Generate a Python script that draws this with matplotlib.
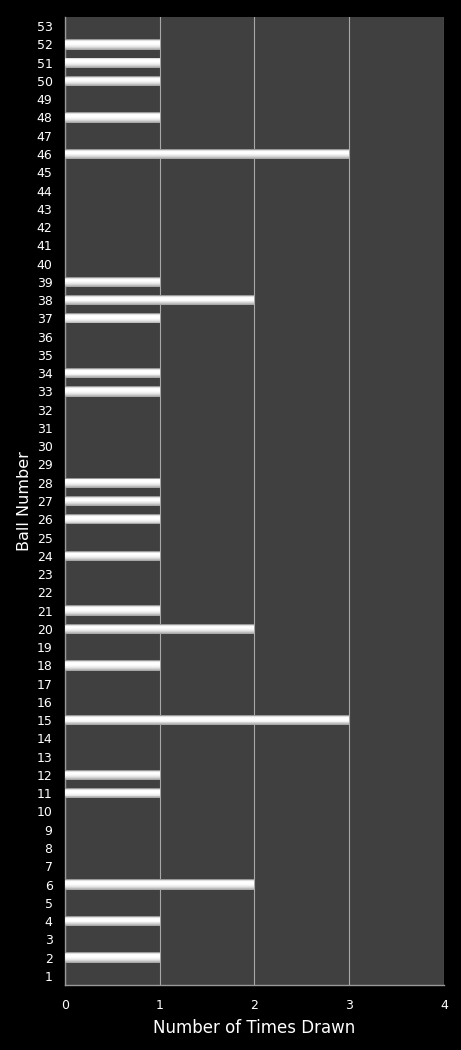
import numpy as np
import matplotlib.pyplot as plt

ball_numbers = list(range(1, 54))
drawn_balls = [2, 4, 6, 11, 12, 15, 18, 20, 21, 24, 26, 27, 28, 33, 34, 37, 38, 39, 46, 48, 50, 51, 52]
drawn_counts = [1, 1, 2, 1, 1, 3, 1, 2, 1, 1, 1, 1, 1, 1, 1, 1, 2, 1, 3, 1, 1, 1, 1]
x_ticks = [0, 1, 2, 3, 4]

counts = dict(zip(drawn_balls, drawn_counts))
values = np.array([counts.get(b, 0) for b in ball_numbers])
y = np.array(ball_numbers, dtype=float)

fig = plt.figure(figsize=(4.61, 10.5), dpi=100, facecolor='black')
ax = fig.add_axes([0.141, 0.0619, 0.822, 0.9219])
ax.set_facecolor('#404040')

# cylinder-like shading: thin horizontal slices, top to bottom
shades = [0.6, 0.88, 0.99, 1.0, 1.0, 0.98, 0.95, 0.9, 0.83, 0.74, 0.66]
bar_h = 0.56
n = len(shades)
slice_h = bar_h / n
for i, s in enumerate(shades):
    yc = y + bar_h / 2 - (i + 0.5) * slice_h
    ax.barh(yc, values, height=slice_h * 1.02, color=str(s), edgecolor='none',
            linewidth=0, zorder=3)

ax.set_xlim(0, 4)
ax.set_ylim(0.5, 53.5)
ax.set_yticks(ball_numbers)
ax.set_xticks(x_ticks)
ax.xaxis.grid(True, color='#a8a8a8', linewidth=0.8, zorder=1)
ax.set_axisbelow(True)

for side in ['top', 'right']:
    ax.spines[side].set_visible(False)
for side in ['left', 'bottom']:
    ax.spines[side].set_color('#999999')
    ax.spines[side].set_linewidth(1.0)

ax.tick_params(axis='both', length=0, colors='white', labelsize=9)
ax.tick_params(axis='x', pad=10)
ax.tick_params(axis='y', pad=9)

ax.set_xlabel('Number of Times Drawn', color='white', fontsize=12, labelpad=5)
ax.set_ylabel('Ball Number', color='white', fontsize=11.5, labelpad=3)

fig.savefig('out.png', dpi=100, facecolor='black')
